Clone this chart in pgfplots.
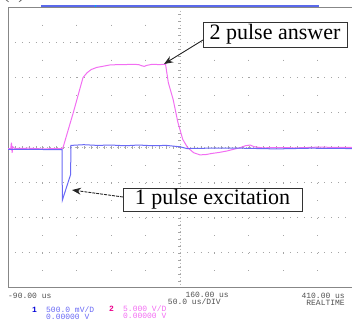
\documentclass[border=0pt]{standalone}
\usepackage{pgfplots}
\pgfplotsset{compat=1.18}
\usetikzlibrary{arrows.meta}
\usepackage{fontspec}
\setmainfont{Liberation Serif}
\newfontfamily\scopefont{Liberation Mono}
\definecolor{trmag}{RGB}{242,110,242}
\definecolor{trblue}{RGB}{105,105,245}
\definecolor{gridc}{RGB}{165,165,165}
\definecolor{framec}{RGB}{135,135,135}
\definecolor{txtg}{RGB}{80,80,80}
\definecolor{barblue}{RGB}{90,105,235}
\begin{document}
\begin{tikzpicture}[x=1bp,y=1bp]
\useasboundingbox (0,0) rectangle (352,320);
\begin{axis}[
  at={(8bp,32bp)}, anchor=south west,
  width=344bp, height=281bp, scale only axis,
  xmin=-90, xmax=410, ymin=-4, ymax=4,
  hide axis,
]
% grid
\pgfplotsinvokeforeach{-3,-2,-1,1,2,3}{
  \draw[gridc, line width=1bp, dash pattern=on 1bp off 5.88bp] (axis cs:-90,#1) -- (axis cs:410,#1);
}
\pgfplotsinvokeforeach{-40,10,60,110,210,260,310,360}{
  \draw[gridc, line width=1bp, dash pattern=on 1bp off 16.56bp] (axis cs:#1,4) -- (axis cs:#1,-4);
}
% center lines with ticks
\draw[gridc!80, line width=0.5bp, dash pattern=on 1.2bp off 2.3bp] (axis cs:160,4) -- (axis cs:160,-4);
\draw[gridc, line width=3bp, dash pattern=on 0.6bp off 6.42bp] (axis cs:160,4) -- (axis cs:160,-4);
\draw[gridc!80, line width=0.5bp, dash pattern=on 1.2bp off 2.3bp] (axis cs:-90,0) -- (axis cs:410,0);
\draw[gridc, line width=3bp, dash pattern=on 0.6bp off 6.28bp] (axis cs:-90,0) -- (axis cs:410,0);
% frame (left, top, bottom)
\draw[framec, line width=1.1bp] (rel axis cs:1,1) -- (rel axis cs:0,1) -- (rel axis cs:0,0) -- (rel axis cs:1,0);
% channel 2 (magenta)
\addplot[trmag, line width=1bp] coordinates {
(-90,-0.03) (-86,-0.03) (-85,0.14) (-84,-0.15) (-83,0.02) (-80,-0.03)
(-60,-0.02) (-40,-0.04) (-20,-0.03) (-11,-0.03) (-10,0.0) (5,1.0)
(19,1.99) (25,2.13) (31,2.22) (39,2.28) (50,2.32) (58,2.35) (70,2.36)
(80,2.36) (90,2.37) (100,2.36) (104,2.33) (108,2.31) (112,2.34) (120,2.37)
(130,2.36) (139,2.37) (143,1.85) (150,1.37) (157,0.71) (164,0.23) (171,0.0)
(180,-0.15) (189,-0.21) (198,-0.20) (206,-0.17) (217,-0.14) (228,-0.10)
(238,-0.05) (247,-0.01) (255,0.05) (262,0.07) (268,0.02) (280,-0.01)
(300,0.0) (330,-0.01) (360,0.01) (410,0.0)
};
% channel 1 (blue)
\addplot[trblue, line width=1bp] coordinates {
(-90,-0.05) (-60,-0.05) (-30,-0.06) (-11.5,-0.06) (-11,-1.50) (1,-0.77)
(1.5,0.06) (20,0.08) (40,0.06) (60,0.07) (80,0.05) (100,0.07) (120,0.05)
(140,0.06) (160,0.02) (170,-0.03) (200,-0.02) (250,-0.02) (300,-0.04)
(350,-0.02) (410,-0.03)
};
\end{axis}
% memory bar on top
\draw[barblue, line width=2bp] (41,314) -- (319,314);
\fill[cyan] (94.5,313) rectangle (96,315);
% partial label at top
\node[anchor=base, font=\fontsize{20bp}{22bp}\selectfont, text=txtg] at (14,322) {(a)};
% annotations
\node[draw=black!80, line width=0.7bp, fill=white, minimum width=144bp, minimum height=25bp, inner sep=0pt,
      font=\fontsize{22bp}{24bp}\selectfont] at (275,285.5) {2 pulse answer};
\draw[black!85, line width=0.9bp, -{Stealth[length=9bp,width=7bp]}] (203,280) -- (164,256);
\node[draw=black!80, line width=0.7bp, fill=white, minimum width=179bp, minimum height=23bp, inner sep=0pt,
      font=\fontsize{22bp}{24bp}\selectfont] at (212.5,120.5) {1 pulse excitation};
\draw[black!85, line width=0.9bp, dash pattern=on 3bp off 1bp, -{Stealth[length=9bp,width=7bp]}] (123,123) -- (72,130);
% bottom status text
\begin{scope}[every node/.style={font=\scopefont\fontsize{8bp}{9bp}\selectfont, inner sep=0pt}]
\node[anchor=west, text=txtg] at (8,24) {-90.00 us};
\node[anchor=east, text=txtg] at (229,25) {160.00 us};
\node[anchor=east, text=txtg] at (221,18) {50.0 us/DIV};
\node[anchor=east, text=txtg] at (345,24) {410.00 us};
\node[anchor=east, text=txtg] at (345,17) {REALTIME};
\node[anchor=west, text=blue!85!black, font=\scopefont\bfseries\fontsize{8bp}{9bp}\selectfont] at (32,10) {1};
\node[anchor=west, text=trblue] at (46,10) {500.0 mV/D};
\node[anchor=west, text=trblue] at (46,3) {0.00000 V};
\node[anchor=west, text=magenta, font=\scopefont\bfseries\fontsize{8bp}{9bp}\selectfont] at (109,11) {2};
\node[anchor=west, text=trmag] at (123,11) {5.000 V/D};
\node[anchor=west, text=trmag] at (123,4) {0.00000 V};
\end{scope}
\end{tikzpicture}
\end{document}
